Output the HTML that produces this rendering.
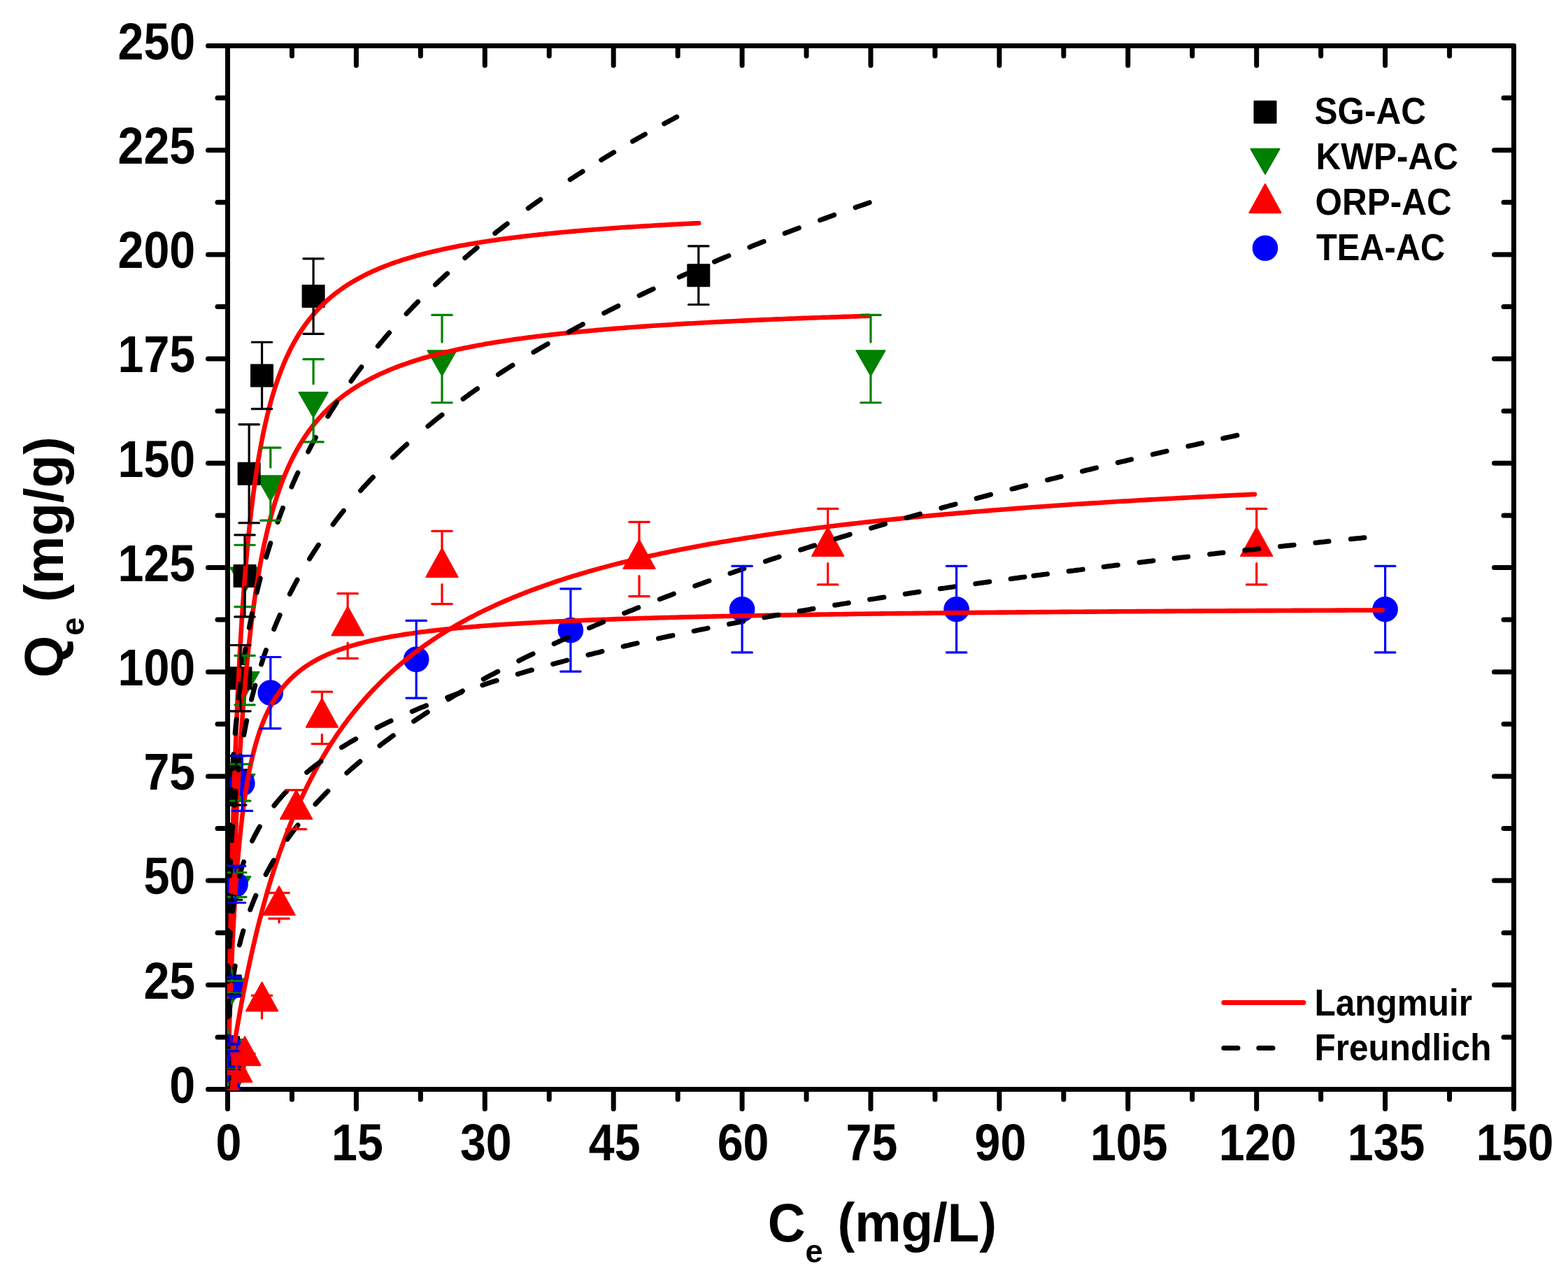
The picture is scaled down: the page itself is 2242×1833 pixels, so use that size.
<!DOCTYPE html>
<html lang="en"><head><meta charset="utf-8"><title>Adsorption isotherms</title>
<style>html,body{margin:0;padding:0;background:#fff;}body{width:2242px;height:1833px;overflow:hidden;}svg{display:block;}text{font-family:"Liberation Sans",Arial,Helvetica,sans-serif;font-weight:bold;fill:#000;}</style></head><body>
<svg width="2242" height="1833" viewBox="0 0 2242 1833" role="img" aria-label="Adsorption isotherms: Langmuir and Freundlich fits">
<rect x="0" y="0" width="2242" height="1833" fill="#fff"/>
<defs><clipPath id="plot"><rect x="324.85" y="64.85" width="1841.20" height="1494.20"/></clipPath></defs>
<g stroke="#000" stroke-width="7" stroke-linecap="round" fill="none"><path d="M325.50 65.50 H2164.50 V1557.50 H325.50 Z" stroke-linejoin="round"/><path d="M325.50 1557.50v28.00M325.50 65.50v28.00M417.45 1557.50v14.50M417.45 65.50v14.50M509.40 1557.50v28.00M509.40 65.50v28.00M601.35 1557.50v14.50M601.35 65.50v14.50M693.30 1557.50v28.00M693.30 65.50v28.00M785.25 1557.50v14.50M785.25 65.50v14.50M877.20 1557.50v28.00M877.20 65.50v28.00M969.15 1557.50v14.50M969.15 65.50v14.50M1061.10 1557.50v28.00M1061.10 65.50v28.00M1153.05 1557.50v14.50M1153.05 65.50v14.50M1245.00 1557.50v28.00M1245.00 65.50v28.00M1336.95 1557.50v14.50M1336.95 65.50v14.50M1428.90 1557.50v28.00M1428.90 65.50v28.00M1520.85 1557.50v14.50M1520.85 65.50v14.50M1612.80 1557.50v28.00M1612.80 65.50v28.00M1704.75 1557.50v14.50M1704.75 65.50v14.50M1796.70 1557.50v28.00M1796.70 65.50v28.00M1888.65 1557.50v14.50M1888.65 65.50v14.50M1980.60 1557.50v28.00M1980.60 65.50v28.00M2072.55 1557.50v14.50M2072.55 65.50v14.50M2164.50 1557.50v28.00M2164.50 65.50v28.00M325.50 1557.50h-28.00M2164.50 1557.50h-28.00M325.50 1482.90h-14.50M2164.50 1482.90h-14.50M325.50 1408.30h-28.00M2164.50 1408.30h-28.00M325.50 1333.70h-14.50M2164.50 1333.70h-14.50M325.50 1259.10h-28.00M2164.50 1259.10h-28.00M325.50 1184.50h-14.50M2164.50 1184.50h-14.50M325.50 1109.90h-28.00M2164.50 1109.90h-28.00M325.50 1035.30h-14.50M2164.50 1035.30h-14.50M325.50 960.70h-28.00M2164.50 960.70h-28.00M325.50 886.10h-14.50M2164.50 886.10h-14.50M325.50 811.50h-28.00M2164.50 811.50h-28.00M325.50 736.90h-14.50M2164.50 736.90h-14.50M325.50 662.30h-28.00M2164.50 662.30h-28.00M325.50 587.70h-14.50M2164.50 587.70h-14.50M325.50 513.10h-28.00M2164.50 513.10h-28.00M325.50 438.50h-14.50M2164.50 438.50h-14.50M325.50 363.90h-28.00M2164.50 363.90h-28.00M325.50 289.30h-14.50M2164.50 289.30h-14.50M325.50 214.70h-28.00M2164.50 214.70h-28.00M325.50 140.10h-14.50M2164.50 140.10h-14.50M325.50 65.50h-28.00M2164.50 65.50h-28.00"/></g>
<g font-size="73.7px"><text transform="translate(327.00 1658.90) scale(0.9 1)" text-anchor="middle">0</text><text transform="translate(510.90 1658.90) scale(0.9 1)" text-anchor="middle">15</text><text transform="translate(694.80 1658.90) scale(0.9 1)" text-anchor="middle">30</text><text transform="translate(878.70 1658.90) scale(0.9 1)" text-anchor="middle">45</text><text transform="translate(1062.60 1658.90) scale(0.9 1)" text-anchor="middle">60</text><text transform="translate(1246.50 1658.90) scale(0.9 1)" text-anchor="middle">75</text><text transform="translate(1430.40 1658.90) scale(0.9 1)" text-anchor="middle">90</text><text transform="translate(1614.30 1658.90) scale(0.9 1)" text-anchor="middle">105</text><text transform="translate(1798.20 1658.90) scale(0.9 1)" text-anchor="middle">120</text><text transform="translate(1982.10 1658.90) scale(0.9 1)" text-anchor="middle">135</text><text transform="translate(2166.00 1658.90) scale(0.9 1)" text-anchor="middle">150</text><text transform="translate(279.20 1576.70) scale(0.9 1)" text-anchor="end">0</text><text transform="translate(279.20 1427.50) scale(0.9 1)" text-anchor="end">25</text><text transform="translate(279.20 1278.30) scale(0.9 1)" text-anchor="end">50</text><text transform="translate(279.20 1129.10) scale(0.9 1)" text-anchor="end">75</text><text transform="translate(279.20 979.90) scale(0.9 1)" text-anchor="end">100</text><text transform="translate(279.20 830.70) scale(0.9 1)" text-anchor="end">125</text><text transform="translate(279.20 681.50) scale(0.9 1)" text-anchor="end">150</text><text transform="translate(279.20 532.30) scale(0.9 1)" text-anchor="end">175</text><text transform="translate(279.20 383.10) scale(0.9 1)" text-anchor="end">200</text><text transform="translate(279.20 233.90) scale(0.9 1)" text-anchor="end">225</text><text transform="translate(279.20 84.70) scale(0.9 1)" text-anchor="end">250</text></g>
<text transform="translate(1097.70 1775.00) scale(0.962 1)" font-size="77.5px">C<tspan font-size="47px" dy="30">e</tspan><tspan dy="-30"> (mg/L)</tspan></text>
<text transform="translate(90.10 969.00) rotate(-90) scale(1 1)" font-size="77.5px">Q<tspan font-size="47px" dy="30">e</tspan><tspan dy="-30"> (mg/g)</tspan></text>
<g clip-path="url(#plot)">
<g fill="#008000" stroke="#008000" stroke-width="2" stroke-linejoin="round">
<path d="M304.95 1545.60L346.05 1545.60L325.50 1581.30Z"/>
<path d="M305.56 1515.76L346.66 1515.76L326.11 1551.46Z"/>
<path d="M306.79 1485.92L347.89 1485.92L327.34 1521.62Z"/>
<path d="M311.08 1399.38L352.18 1399.38L331.63 1435.08Z"/>
<path d="M317.21 1253.17L358.31 1253.17L337.76 1288.87Z"/>
<path d="M323.34 1106.95L364.44 1106.95L343.89 1142.65Z"/>
<path d="M329.47 960.74L370.57 960.74L350.02 996.44Z"/>
<path d="M329.47 811.54L370.57 811.54L350.02 847.24Z"/>
<path d="M366.25 680.24L407.35 680.24L386.80 715.94Z"/>
<path d="M427.55 560.88L468.65 560.88L448.10 596.58Z"/>
<path d="M611.45 501.20L652.55 501.20L632.00 536.90Z"/>
<path d="M1224.45 501.20L1265.55 501.20L1245.00 536.90Z"/>
</g>
<g fill="#000000" stroke="#000000" stroke-width="2" stroke-linejoin="round">
<rect x="310.00" y="1542.00" width="31.00" height="31.00"/>
<rect x="313.43" y="1512.16" width="31.00" height="31.00"/>
<rect x="311.23" y="1482.32" width="31.00" height="31.00"/>
<rect x="313.68" y="1394.59" width="31.00" height="31.00"/>
<rect x="316.13" y="1247.78" width="31.00" height="31.00"/>
<rect x="322.26" y="1100.37" width="31.00" height="31.00"/>
<rect x="328.39" y="954.15" width="31.00" height="31.00"/>
<rect x="334.52" y="807.94" width="31.00" height="31.00"/>
<rect x="340.65" y="661.72" width="31.00" height="31.00"/>
<rect x="359.04" y="521.47" width="31.00" height="31.00"/>
<rect x="432.60" y="408.08" width="31.00" height="31.00"/>
<rect x="983.32" y="378.24" width="31.00" height="31.00"/>
</g>
<g fill="#0000ff" stroke="#0000ff" stroke-width="2" stroke-linejoin="round">
<circle cx="325.50" cy="1557.50" r="17.30"/>
<circle cx="326.11" cy="1527.66" r="17.30"/>
<circle cx="327.95" cy="1497.82" r="17.30"/>
<circle cx="330.40" cy="1410.69" r="17.30"/>
<circle cx="336.53" cy="1264.47" r="17.30"/>
<circle cx="346.34" cy="1120.05" r="17.30"/>
<circle cx="386.80" cy="990.54" r="17.30"/>
<circle cx="595.22" cy="942.80" r="17.30"/>
<circle cx="815.90" cy="901.02" r="17.30"/>
<circle cx="1061.10" cy="871.18" r="17.30"/>
<circle cx="1367.60" cy="871.18" r="17.30"/>
<circle cx="1980.60" cy="871.18" r="17.30"/>
</g>
<g fill="#ff0000" stroke="#ff0000" stroke-width="2" stroke-linejoin="round">
<path d="M302.90 1570.90L348.10 1570.90L325.50 1529.90Z"/>
<path d="M315.16 1547.03L360.36 1547.03L337.76 1506.03Z"/>
<path d="M327.42 1523.16L372.62 1523.16L350.02 1482.16Z"/>
<path d="M351.94 1445.57L397.14 1445.57L374.54 1404.57Z"/>
<path d="M376.46 1308.31L421.66 1308.31L399.06 1267.31Z"/>
<path d="M400.98 1171.04L446.18 1171.04L423.58 1130.04Z"/>
<path d="M437.76 1039.75L482.96 1039.75L460.36 998.75Z"/>
<path d="M474.54 908.45L519.74 908.45L497.14 867.45Z"/>
<path d="M609.40 824.90L654.60 824.90L632.00 783.90Z"/>
<path d="M891.38 812.96L936.58 812.96L913.98 771.96Z"/>
<path d="M1161.10 795.06L1206.30 795.06L1183.70 754.06Z"/>
<path d="M1774.10 795.06L1819.30 795.06L1796.70 754.06Z"/>
</g>
<g fill="none" stroke="#ff0000" stroke-width="6.6" stroke-linecap="round" stroke-linejoin="round">
<path d="M325.50 1557.50L325.50 1557.42L325.51 1557.12L325.52 1556.58L325.54 1555.77L325.56 1554.67L325.59 1553.28L325.63 1551.58L325.67 1549.58L325.72 1547.25L325.77 1544.61L325.84 1541.65L325.91 1538.36L325.99 1534.75L326.07 1530.81L326.17 1526.56L326.27 1521.99L326.38 1517.10L326.50 1511.90L326.62 1506.40L326.76 1500.61L326.90 1494.52L327.05 1488.14L327.21 1481.50L327.38 1474.58L327.56 1467.41L327.74 1459.99L327.94 1452.33L328.14 1444.44L328.35 1436.34L328.57 1428.03L328.80 1419.52L329.04 1410.83L329.29 1401.96L329.55 1392.94L329.81 1383.76L330.09 1374.44L330.37 1365.00L330.67 1355.44L330.97 1345.77L331.29 1336.01L331.61 1326.17L331.94 1316.25L332.28 1306.27L332.64 1296.24L333.00 1286.17L333.37 1276.06L333.75 1265.93L334.14 1255.78L334.54 1245.63L334.95 1235.48L335.37 1225.34L335.81 1215.21L336.25 1205.11L336.70 1195.05L337.16 1185.02L337.63 1175.03L338.11 1165.10L338.60 1155.22L339.11 1145.40L339.62 1135.65L340.14 1125.97L340.67 1116.37L341.22 1106.84L341.77 1097.40L342.34 1088.04L342.91 1078.77L343.50 1069.59L344.09 1060.51L344.70 1051.52L345.32 1042.63L345.95 1033.85L346.59 1025.16L347.24 1016.58L347.90 1008.10L348.57 999.73L349.25 991.47L349.94 983.31L350.65 975.26L351.36 967.32L352.09 959.49L352.82 951.77L353.57 944.16L354.33 936.65L355.10 929.25L355.88 921.97L356.67 914.78L357.47 907.71L358.29 900.74L359.11 893.88L359.95 887.13L360.80 880.47L361.66 873.92L362.53 867.48L363.41 861.13L364.30 854.89L365.21 848.74L366.12 842.70L367.05 836.75L367.99 830.90L368.94 825.14L369.90 819.47L370.87 813.90L371.86 808.42L372.85 803.03L373.86 797.73L374.88 792.51L375.91 787.38L376.95 782.34L378.00 777.38L379.07 772.50L380.15 767.71L381.24 762.99L382.34 758.35L383.45 753.79L384.57 749.31L385.71 744.90L386.86 740.56L388.02 736.30L389.19 732.10L390.37 727.98L391.57 723.93L392.77 719.94L393.99 716.02L395.22 712.16L396.47 708.37L397.72 704.64L398.99 700.98L400.27 697.37L401.56 693.83L402.86 690.34L404.18 686.91L405.51 683.54L406.85 680.22L408.20 676.96L409.56 673.75L410.94 670.59L412.33 667.48L413.73 664.43L415.14 661.42L416.56 658.47L418.00 655.56L419.45 652.70L420.91 649.88L422.39 647.11L423.87 644.39L425.37 641.70L426.88 639.06L428.40 636.47L429.94 633.91L431.49 631.40L433.05 628.92L434.62 626.48L436.21 624.09L437.81 621.73L439.42 619.40L441.04 617.12L442.68 614.86L444.32 612.65L445.99 610.47L447.66 608.32L449.34 606.20L451.04 604.12L452.75 602.07L454.48 600.05L456.21 598.06L457.96 596.10L459.73 594.17L461.50 592.27L463.29 590.40L465.09 588.55L466.90 586.74L468.73 584.95L470.56 583.18L472.42 581.45L474.28 579.74L476.16 578.05L478.05 576.39L479.95 574.75L481.86 573.14L483.79 571.55L485.73 569.98L487.69 568.44L489.65 566.92L491.63 565.42L493.63 563.94L495.63 562.48L497.65 561.04L499.68 559.63L501.73 558.23L503.79 556.86L505.86 555.50L507.94 554.16L510.04 552.84L512.15 551.54L514.27 550.25L516.41 548.99L518.56 547.74L520.72 546.51L522.90 545.29L525.08 544.09L527.29 542.91L529.50 541.75L531.73 540.60L533.97 539.46L536.23 538.34L538.49 537.24L540.78 536.15L543.07 535.07L545.38 534.01L547.70 532.96L550.03 531.93L552.38 530.91L554.74 529.90L557.12 528.91L559.50 527.93L561.91 526.96L564.32 526.00L566.75 525.06L569.19 524.13L571.64 523.21L574.11 522.30L576.59 521.40L579.09 520.52L581.60 519.65L584.12 518.78L586.66 517.93L589.20 517.09L591.77 516.26L594.34 515.44L596.93 514.63L599.54 513.83L602.15 513.03L604.78 512.25L607.43 511.48L610.08 510.72L612.75 509.97L615.44 509.22L618.14 508.49L620.85 507.76L623.57 507.04L626.31 506.33L629.07 505.63L631.83 504.94L634.61 504.25L637.41 503.58L640.21 502.91L643.04 502.25L645.87 501.60L648.72 500.95L651.58 500.31L654.46 499.68L657.35 499.06L660.25 498.44L663.17 497.83L666.10 497.23L669.05 496.64L672.01 496.05L674.98 495.47L677.97 494.89L680.97 494.32L683.98 493.76L687.01 493.20L690.05 492.65L693.11 492.11L696.18 491.57L699.27 491.04L702.36 490.51L705.48 489.99L708.60 489.48L711.74 488.97L714.90 488.47L718.07 487.97L721.25 487.47L724.44 486.99L727.65 486.50L730.88 486.03L734.12 485.56L737.37 485.09L740.63 484.63L743.92 484.17L747.21 483.72L750.52 483.27L753.84 482.83L757.18 482.39L760.53 481.95L763.89 481.52L767.27 481.10L770.67 480.68L774.08 480.26L777.50 479.85L780.93 479.44L784.38 479.04L787.85 478.64L791.33 478.25L794.82 477.85L798.33 477.47L801.85 477.08L805.38 476.70L808.93 476.33L812.50 475.96L816.08 475.59L819.67 475.22L823.28 474.86L826.90 474.50L830.53 474.15L834.18 473.80L837.85 473.45L841.53 473.11L845.22 472.77L848.93 472.43L852.65 472.10L856.38 471.76L860.14 471.44L863.90 471.11L867.68 470.79L871.47 470.47L875.28 470.16L879.10 469.84L882.94 469.54L886.79 469.23L890.66 468.93L894.54 468.62L898.44 468.33L902.34 468.03L906.27 467.74L910.21 467.45L914.16 467.16L918.13 466.88L922.11 466.60L926.11 466.32L930.12 466.04L934.14 465.77L938.19 465.50L942.24 465.23L946.31 464.96L950.39 464.70L954.49 464.43L958.61 464.17L962.73 463.92L966.88 463.66L971.03 463.41L975.21 463.16L979.39 462.91L983.60 462.66L987.81 462.42L992.04 462.18L996.29 461.94L1000.55 461.70L1004.82 461.47L1009.11 461.23L1013.42 461.00L1017.74 460.77L1022.07 460.55L1026.42 460.32L1030.78 460.10L1035.16 459.88L1039.55 459.66L1043.96 459.44L1048.38 459.22L1052.82 459.01L1057.27 458.80L1061.74 458.59L1066.22 458.38L1070.72 458.17L1075.23 457.96L1079.76 457.76L1084.30 457.56L1088.85 457.36L1093.42 457.16L1098.01 456.96L1102.61 456.77L1107.23 456.57L1111.86 456.38L1116.50 456.19L1121.16 456.00L1125.84 455.82L1130.53 455.63L1135.23 455.45L1139.95 455.26L1144.69 455.08L1149.44 454.90L1154.20 454.72L1158.98 454.55L1163.78 454.37L1168.59 454.20L1173.41 454.02L1178.25 453.85L1183.11 453.68L1187.98 453.51L1192.87 453.35L1197.77 453.18L1202.68 453.02L1207.61 452.85L1212.56 452.69L1217.52 452.53L1222.49 452.37L1227.48 452.21L1232.49 452.05L1237.51 451.90L1242.55 451.74"/>
<path d="M325.50 1557.50L325.50 1557.41L325.51 1557.09L325.51 1556.50L325.53 1555.62L325.54 1554.43L325.57 1552.93L325.59 1551.09L325.62 1548.92L325.66 1546.40L325.70 1543.54L325.75 1540.32L325.80 1536.76L325.86 1532.84L325.92 1528.57L325.99 1523.96L326.07 1519.00L326.15 1513.69L326.23 1508.05L326.33 1502.08L326.43 1495.78L326.53 1489.16L326.64 1482.23L326.76 1475.00L326.88 1467.47L327.01 1459.66L327.15 1451.58L327.29 1443.24L327.44 1434.64L327.60 1425.80L327.76 1416.73L327.93 1407.44L328.10 1397.95L328.28 1388.26L328.47 1378.39L328.67 1368.35L328.87 1358.15L329.08 1347.81L329.30 1337.33L329.52 1326.73L329.75 1316.02L329.99 1305.21L330.23 1294.32L330.48 1283.35L330.74 1272.32L331.01 1261.23L331.28 1250.10L331.56 1238.94L331.85 1227.75L332.14 1216.55L332.44 1205.35L332.75 1194.15L333.07 1182.96L333.39 1171.79L333.73 1160.65L334.06 1149.55L334.41 1138.49L334.77 1127.48L335.13 1116.52L335.50 1105.62L335.87 1094.79L336.26 1084.04L336.65 1073.36L337.05 1062.76L337.45 1052.25L337.87 1041.83L338.29 1031.50L338.72 1021.26L339.16 1011.13L339.61 1001.10L340.06 991.17L340.52 981.35L340.99 971.64L341.47 962.05L341.95 952.56L342.45 943.19L342.95 933.93L343.46 924.79L343.97 915.76L344.50 906.85L345.03 898.06L345.57 889.39L346.12 880.83L346.68 872.40L347.24 864.08L347.82 855.88L348.40 847.80L348.99 839.83L349.59 831.98L350.19 824.25L350.81 816.63L351.43 809.13L352.06 801.74L352.70 794.46L353.35 787.30L354.00 780.25L354.67 773.30L355.34 766.46L356.02 759.74L356.71 753.11L357.41 746.60L358.12 740.18L358.83 733.87L359.55 727.66L360.29 721.55L361.03 715.54L361.77 709.63L362.53 703.81L363.30 698.09L364.07 692.46L364.85 686.92L365.65 681.47L366.45 676.11L367.25 670.84L368.07 665.66L368.90 660.56L369.73 655.54L370.57 650.61L371.43 645.76L372.29 640.99L373.16 636.29L374.03 631.67L374.92 627.13L375.82 622.67L376.72 618.27L377.63 613.95L378.56 609.70L379.49 605.52L380.43 601.41L381.38 597.36L382.33 593.38L383.30 589.47L384.27 585.61L385.26 581.83L386.25 578.10L387.25 574.43L388.26 570.83L389.28 567.28L390.31 563.78L391.35 560.35L392.40 556.97L393.45 553.64L394.52 550.37L395.59 547.15L396.67 543.98L397.77 540.86L398.87 537.79L399.98 534.77L401.10 531.79L402.22 528.87L403.36 525.99L404.51 523.15L405.66 520.36L406.83 517.61L408.00 514.90L409.19 512.24L410.38 509.62L411.58 507.04L412.79 504.50L414.01 501.99L415.24 499.53L416.48 497.10L417.73 494.71L418.98 492.36L420.25 490.04L421.53 487.76L422.81 485.51L424.11 483.29L425.41 481.11L426.72 478.96L428.04 476.84L429.38 474.76L430.72 472.70L432.07 470.68L433.43 468.68L434.80 466.72L436.18 464.78L437.56 462.87L438.96 460.99L440.37 459.13L441.79 457.31L443.21 455.51L444.65 453.73L446.09 451.98L447.55 450.26L449.01 448.55L450.48 446.88L451.97 445.23L453.46 443.60L454.96 441.99L456.47 440.40L458.00 438.84L459.53 437.30L461.07 435.78L462.62 434.28L464.18 432.81L465.75 431.35L467.32 429.91L468.91 428.49L470.51 427.09L472.12 425.72L473.74 424.35L475.36 423.01L477.00 421.69L478.65 420.38L480.30 419.09L481.97 417.82L483.65 416.56L485.33 415.32L487.03 414.10L488.73 412.89L490.45 411.70L492.17 410.52L493.91 409.36L495.65 408.22L497.41 407.09L499.17 405.97L500.94 404.87L502.73 403.78L504.52 402.71L506.32 401.65L508.14 400.60L509.96 399.57L511.79 398.55L513.64 397.54L515.49 396.54L517.35 395.56L519.22 394.59L521.11 393.63L523.00 392.68L524.90 391.75L526.81 390.82L528.74 389.91L530.67 389.01L532.61 388.12L534.56 387.24L536.52 386.37L538.50 385.51L540.48 384.66L542.47 383.82L544.47 383.00L546.49 382.18L548.51 381.37L550.54 380.57L552.58 379.78L554.64 379.00L556.70 378.23L558.77 377.46L560.85 376.71L562.95 375.96L565.05 375.23L567.16 374.50L569.29 373.78L571.42 373.07L573.56 372.37L575.72 371.67L577.88 370.98L580.05 370.30L582.24 369.63L584.43 368.97L586.64 368.31L588.85 367.66L591.08 367.02L593.31 366.38L595.56 365.75L597.81 365.13L600.08 364.52L602.35 363.91L604.64 363.31L606.94 362.71L609.24 362.12L611.56 361.54L613.89 360.97L616.23 360.40L618.57 359.83L620.93 359.28L623.30 358.72L625.68 358.18L628.07 357.64L630.47 357.11L632.88 356.58L635.30 356.05L637.73 355.54L640.17 355.02L642.62 354.52L645.08 354.02L647.56 353.52L650.04 353.03L652.53 352.54L655.03 352.06L657.55 351.58L660.07 351.11L662.61 350.65L665.15 350.19L667.71 349.73L670.27 349.28L672.85 348.83L675.44 348.38L678.03 347.94L680.64 347.51L683.26 347.08L685.89 346.65L688.53 346.23L691.18 345.81L693.84 345.40L696.51 344.99L699.19 344.58L701.88 344.18L704.59 343.79L707.30 343.39L710.02 343.00L712.76 342.61L715.50 342.23L718.26 341.85L721.02 341.48L723.80 341.11L726.59 340.74L729.38 340.37L732.19 340.01L735.01 339.65L737.84 339.30L740.68 338.95L743.53 338.60L746.39 338.26L749.27 337.91L752.15 337.58L755.04 337.24L757.95 336.91L760.86 336.58L763.79 336.25L766.72 335.93L769.67 335.61L772.63 335.29L775.59 334.98L778.57 334.67L781.56 334.36L784.56 334.05L787.57 333.75L790.60 333.45L793.63 333.15L796.67 332.86L799.73 332.57L802.79 332.28L805.87 331.99L808.95 331.70L812.05 331.42L815.16 331.14L818.28 330.86L821.41 330.59L824.55 330.32L827.70 330.05L830.86 329.78L834.03 329.51L837.22 329.25L840.41 328.99L843.62 328.73L846.83 328.47L850.06 328.22L853.30 327.97L856.55 327.72L859.81 327.47L863.08 327.22L866.36 326.98L869.65 326.74L872.96 326.50L876.27 326.26L879.60 326.03L882.93 325.79L886.28 325.56L889.64 325.33L893.01 325.10L896.39 324.88L899.78 324.65L903.18 324.43L906.59 324.21L910.01 323.99L913.45 323.78L916.89 323.56L920.35 323.35L923.82 323.13L927.30 322.93L930.79 322.72L934.29 322.51L937.80 322.31L941.32 322.10L944.86 321.90L948.40 321.70L951.96 321.50L955.52 321.30L959.10 321.11L962.69 320.92L966.29 320.72L969.90 320.53L973.52 320.34L977.16 320.16L980.80 319.97L984.45 319.78L988.12 319.60L991.80 319.42L995.49 319.24L999.19 319.06"/>
<path d="M325.50 1557.50L325.50 1557.37L325.51 1556.89L325.53 1556.00L325.57 1554.69L325.61 1552.92L325.66 1550.68L325.73 1547.97L325.80 1544.77L325.89 1541.10L325.99 1536.95L326.11 1532.33L326.24 1527.25L326.38 1521.73L326.53 1515.77L326.70 1509.41L326.89 1502.66L327.09 1495.53L327.30 1488.06L327.53 1480.27L327.77 1472.18L328.02 1463.82L328.30 1455.22L328.58 1446.40L328.89 1437.39L329.20 1428.21L329.54 1418.89L329.89 1409.46L330.25 1399.94L330.63 1390.35L331.03 1380.71L331.45 1371.05L331.88 1361.39L332.32 1351.74L332.79 1342.12L333.27 1332.55L333.76 1323.04L334.28 1313.61L334.81 1304.27L335.35 1295.02L335.92 1285.89L336.50 1276.88L337.10 1267.99L337.71 1259.24L338.35 1250.63L339.00 1242.17L339.67 1233.86L340.35 1225.70L341.06 1217.69L341.78 1209.85L342.52 1202.16L343.28 1194.64L344.05 1187.28L344.85 1180.08L345.66 1173.04L346.49 1166.16L347.34 1159.44L348.21 1152.88L349.09 1146.47L350.00 1140.22L350.92 1134.13L351.86 1128.18L352.82 1122.37L353.80 1116.72L354.80 1111.20L355.81 1105.83L356.85 1100.59L357.90 1095.48L358.98 1090.51L360.07 1085.66L361.18 1080.94L362.31 1076.34L363.46 1071.86L364.63 1067.50L365.82 1063.24L367.03 1059.10L368.26 1055.07L369.51 1051.14L370.77 1047.31L372.06 1043.58L373.37 1039.95L374.69 1036.41L376.04 1032.96L377.40 1029.61L378.79 1026.33L380.20 1023.14L381.62 1020.04L383.07 1017.01L384.53 1014.06L386.02 1011.18L387.52 1008.38L389.05 1005.64L390.60 1002.98L392.16 1000.38L393.75 997.85L395.36 995.37L396.99 992.96L398.64 990.61L400.30 988.32L401.99 986.08L403.70 983.90L405.43 981.77L407.19 979.69L408.96 977.66L410.75 975.68L412.57 973.75L414.40 971.86L416.26 970.02L418.13 968.22L420.03 966.46L421.95 964.74L423.89 963.06L425.85 961.42L427.83 959.82L429.83 958.26L431.86 956.73L433.90 955.23L435.97 953.77L438.06 952.34L440.17 950.94L442.30 949.58L444.45 948.24L446.62 946.93L448.82 945.65L451.03 944.40L453.27 943.18L455.53 941.98L457.81 940.81L460.11 939.66L462.44 938.54L464.79 937.44L467.15 936.36L469.54 935.31L471.95 934.27L474.39 933.26L476.84 932.27L479.32 931.30L481.82 930.35L484.34 929.42L486.88 928.50L489.45 927.61L492.04 926.73L494.65 925.87L497.28 925.03L499.93 924.20L502.61 923.39L505.31 922.60L508.03 921.82L510.77 921.05L513.54 920.30L516.32 919.57L519.13 918.85L521.97 918.14L524.82 917.44L527.70 916.76L530.60 916.09L533.52 915.43L536.46 914.79L539.43 914.16L542.42 913.53L545.43 912.92L548.47 912.32L551.53 911.74L554.61 911.16L557.71 910.59L560.84 910.03L563.99 909.48L567.16 908.94L570.36 908.41L573.57 907.89L576.81 907.38L580.08 906.88L583.36 906.38L586.67 905.90L590.01 905.42L593.36 904.95L596.74 904.49L600.14 904.04L603.57 903.59L607.02 903.15L610.49 902.72L613.98 902.29L617.50 901.88L621.04 901.46L624.61 901.06L628.20 900.66L631.81 900.27L635.44 899.88L639.10 899.51L642.78 899.13L646.49 898.76L650.22 898.40L653.97 898.05L657.74 897.70L661.54 897.35L665.36 897.01L669.21 896.68L673.08 896.35L676.97 896.02L680.89 895.70L684.83 895.39L688.80 895.08L692.78 894.77L696.80 894.47L700.83 894.17L704.89 893.88L708.98 893.59L713.08 893.31L717.21 893.03L721.37 892.75L725.55 892.48L729.75 892.21L733.98 891.95L738.23 891.69L742.50 891.43L746.80 891.18L751.13 890.93L755.47 890.68L759.84 890.44L764.24 890.20L768.66 889.97L773.10 889.73L777.57 889.50L782.06 889.28L786.58 889.05L791.12 888.83L795.68 888.62L800.27 888.40L804.89 888.19L809.52 887.98L814.19 887.78L818.87 887.57L823.58 887.37L828.32 887.18L833.08 886.98L837.86 886.79L842.67 886.60L847.51 886.41L852.36 886.22L857.25 886.04L862.15 885.86L867.09 885.68L872.04 885.51L877.02 885.33L882.03 885.16L887.06 884.99L892.11 884.82L897.19 884.66L902.30 884.49L907.43 884.33L912.58 884.17L917.76 884.02L922.96 883.86L928.19 883.71L933.44 883.56L938.72 883.41L944.03 883.26L949.35 883.11L954.71 882.97L960.08 882.82L965.49 882.68L970.91 882.54L976.37 882.41L981.84 882.27L987.35 882.14L992.88 882.00L998.43 881.87L1004.01 881.74L1009.61 881.61L1015.24 881.49L1020.89 881.36L1026.57 881.24L1032.27 881.11L1038.00 880.99L1043.76 880.87L1049.54 880.75L1055.34 880.64L1061.17 880.52L1067.03 880.41L1072.91 880.29L1078.82 880.18L1084.75 880.07L1090.70 879.96L1096.69 879.85L1102.69 879.74L1108.73 879.64L1114.79 879.53L1120.87 879.43L1126.98 879.33L1133.12 879.23L1139.28 879.12L1145.46 879.03L1151.67 878.93L1157.91 878.83L1164.17 878.73L1170.46 878.64L1176.78 878.54L1183.12 878.45L1189.48 878.36L1195.87 878.27L1202.29 878.18L1208.73 878.09L1215.20 878.00L1221.70 877.91L1228.22 877.82L1234.76 877.74L1241.33 877.65L1247.93 877.57L1254.55 877.49L1261.20 877.40L1267.88 877.32L1274.58 877.24L1281.31 877.16L1288.06 877.08L1294.84 877.00L1301.64 876.93L1308.47 876.85L1315.33 876.77L1322.21 876.70L1329.12 876.62L1336.05 876.55L1343.01 876.48L1350.00 876.40L1357.01 876.33L1364.05 876.26L1371.12 876.19L1378.21 876.12L1385.33 876.05L1392.47 875.98L1399.64 875.92L1406.83 875.85L1414.06 875.78L1421.30 875.72L1428.58 875.65L1435.88 875.59L1443.21 875.52L1450.56 875.46L1457.94 875.40L1465.35 875.33L1472.78 875.27L1480.24 875.21L1487.72 875.15L1495.23 875.09L1502.77 875.03L1510.34 874.97L1517.93 874.92L1525.54 874.86L1533.19 874.80L1540.86 874.74L1548.55 874.69L1556.28 874.63L1564.03 874.58L1571.80 874.52L1579.60 874.47L1587.43 874.41L1595.29 874.36L1603.17 874.31L1611.08 874.25L1619.02 874.20L1626.98 874.15L1634.97 874.10L1642.98 874.05L1651.03 874.00L1659.09 873.95L1667.19 873.90L1675.31 873.85L1683.46 873.80L1691.64 873.76L1699.84 873.71L1708.07 873.66L1716.33 873.61L1724.61 873.57L1732.92 873.52L1741.26 873.48L1749.62 873.43L1758.01 873.39L1766.43 873.34L1774.87 873.30L1783.34 873.25L1791.84 873.21L1800.37 873.17L1808.92 873.12L1817.50 873.08L1826.11 873.04L1834.74 873.00L1843.40 872.96L1852.09 872.92L1860.80 872.88L1869.54 872.84L1878.31 872.80L1887.11 872.76L1895.93 872.72L1904.78 872.68L1913.66 872.64L1922.56 872.60L1931.49 872.56L1940.45 872.53L1949.43 872.49L1958.45 872.45L1967.49 872.41L1976.55 872.38"/>
<path d="M325.50 1557.50L325.50 1557.48L325.51 1557.41L325.53 1557.28L325.56 1557.08L325.60 1556.82L325.64 1556.48L325.70 1556.07L325.77 1555.58L325.85 1555.01L325.94 1554.37L326.04 1553.64L326.16 1552.83L326.28 1551.93L326.42 1550.95L326.57 1549.89L326.73 1548.74L326.91 1547.50L327.10 1546.18L327.30 1544.77L327.52 1543.27L327.75 1541.69L327.99 1540.02L328.24 1538.26L328.51 1536.41L328.79 1534.48L329.09 1532.46L329.40 1530.36L329.73 1528.17L330.07 1525.90L330.42 1523.54L330.79 1521.10L331.17 1518.57L331.57 1515.97L331.98 1513.29L332.41 1510.52L332.85 1507.68L333.31 1504.76L333.78 1501.77L334.26 1498.70L334.77 1495.55L335.28 1492.34L335.82 1489.05L336.36 1485.70L336.93 1482.28L337.51 1478.79L338.10 1475.24L338.71 1471.62L339.34 1467.94L339.98 1464.21L340.64 1460.41L341.31 1456.56L342.00 1452.65L342.71 1448.69L343.43 1444.68L344.17 1440.62L344.92 1436.51L345.70 1432.36L346.48 1428.16L347.29 1423.92L348.11 1419.64L348.95 1415.31L349.80 1410.96L350.67 1406.56L351.56 1402.13L352.46 1397.67L353.38 1393.18L354.32 1388.66L355.28 1384.12L356.25 1379.55L357.24 1374.95L358.24 1370.34L359.27 1365.70L360.31 1361.04L361.36 1356.37L362.44 1351.68L363.53 1346.98L364.64 1342.27L365.77 1337.54L366.91 1332.81L368.07 1328.07L369.25 1323.32L370.45 1318.57L371.67 1313.81L372.90 1309.05L374.15 1304.29L375.42 1299.53L376.70 1294.77L378.01 1290.01L379.33 1285.26L380.67 1280.51L382.02 1275.77L383.40 1271.04L384.79 1266.31L386.20 1261.59L387.63 1256.89L389.08 1252.19L390.55 1247.51L392.03 1242.84L393.54 1238.19L395.06 1233.54L396.60 1228.92L398.15 1224.31L399.73 1219.72L401.33 1215.15L402.94 1210.59L404.57 1206.06L406.22 1201.54L407.89 1197.05L409.58 1192.58L411.28 1188.13L413.01 1183.70L414.75 1179.29L416.52 1174.91L418.30 1170.55L420.10 1166.22L421.92 1161.91L423.75 1157.63L425.61 1153.37L427.49 1149.14L429.38 1144.93L431.30 1140.75L433.23 1136.60L435.18 1132.48L437.15 1128.38L439.14 1124.31L441.15 1120.27L443.18 1116.25L445.23 1112.27L447.30 1108.31L449.38 1104.38L451.49 1100.48L453.62 1096.61L455.76 1092.77L457.93 1088.95L460.11 1085.17L462.31 1081.42L464.54 1077.69L466.78 1073.99L469.04 1070.33L471.32 1066.69L473.62 1063.08L475.94 1059.50L478.29 1055.95L480.65 1052.43L483.03 1048.94L485.43 1045.48L487.85 1042.04L490.29 1038.64L492.74 1035.26L495.22 1031.92L497.72 1028.60L500.24 1025.31L502.78 1022.05L505.34 1018.82L507.92 1015.62L510.52 1012.44L513.14 1009.30L515.78 1006.18L518.44 1003.09L521.12 1000.03L523.82 996.99L526.54 993.98L529.28 991.00L532.04 988.05L534.82 985.13L537.62 982.23L540.44 979.35L543.28 976.51L546.14 973.69L549.03 970.89L551.93 968.13L554.85 965.39L557.80 962.67L560.76 959.98L563.75 957.31L566.75 954.67L569.78 952.06L572.82 949.47L575.89 946.90L578.98 944.36L582.09 941.84L585.22 939.35L588.37 936.88L591.54 934.43L594.73 932.01L597.94 929.61L601.17 927.23L604.43 924.87L607.70 922.54L611.00 920.23L614.31 917.94L617.65 915.68L621.01 913.43L624.39 911.21L627.79 909.01L631.21 906.83L634.65 904.67L638.11 902.53L641.60 900.41L645.10 898.32L648.63 896.24L652.17 894.18L655.74 892.14L659.33 890.13L662.94 888.13L666.58 886.15L670.23 884.19L673.90 882.25L677.60 880.33L681.32 878.42L685.05 876.54L688.81 874.67L692.59 872.82L696.40 870.99L700.22 869.17L704.07 867.37L707.93 865.59L711.82 863.83L715.73 862.09L719.66 860.36L723.61 858.64L727.59 856.95L731.58 855.27L735.60 853.60L739.64 851.96L743.70 850.32L747.78 848.71L751.88 847.10L756.01 845.52L760.15 843.95L764.32 842.39L768.51 840.85L772.72 839.32L776.96 837.81L781.21 836.31L785.49 834.83L789.79 833.36L794.11 831.90L798.45 830.46L802.82 829.03L807.20 827.61L811.61 826.21L816.04 824.82L820.49 823.44L824.97 822.08L829.46 820.73L833.98 819.39L838.52 818.07L843.08 816.75L847.67 815.45L852.27 814.16L856.90 812.89L861.55 811.62L866.23 810.37L870.92 809.12L875.64 807.89L880.38 806.67L885.14 805.47L889.92 804.27L894.73 803.08L899.55 801.91L904.40 800.74L909.27 799.59L914.17 798.44L919.09 797.31L924.03 796.19L928.99 795.08L933.97 793.97L938.98 792.88L944.00 791.80L949.06 790.72L954.13 789.66L959.22 788.61L964.34 787.56L969.48 786.53L974.65 785.50L979.83 784.48L985.04 783.48L990.27 782.48L995.52 781.49L1000.80 780.51L1006.10 779.53L1011.42 778.57L1016.76 777.61L1022.13 776.67L1027.52 775.73L1032.93 774.80L1038.36 773.88L1043.82 772.96L1049.30 772.05L1054.80 771.16L1060.33 770.27L1065.87 769.38L1071.45 768.51L1077.04 767.64L1082.65 766.78L1088.29 765.93L1093.96 765.08L1099.64 764.24L1105.35 763.41L1111.08 762.59L1116.83 761.77L1122.61 760.96L1128.41 760.16L1134.23 759.36L1140.07 758.57L1145.94 757.79L1151.83 757.01L1157.75 756.24L1163.68 755.48L1169.64 754.72L1175.63 753.97L1181.63 753.23L1187.66 752.49L1193.71 751.76L1199.79 751.03L1205.89 750.31L1212.01 749.60L1218.15 748.89L1224.32 748.19L1230.51 747.49L1236.73 746.80L1242.96 746.11L1249.22 745.44L1255.51 744.76L1261.81 744.09L1268.14 743.43L1274.50 742.77L1280.87 742.12L1287.27 741.47L1293.70 740.83L1300.15 740.20L1306.62 739.56L1313.11 738.94L1319.63 738.32L1326.17 737.70L1332.73 737.09L1339.32 736.48L1345.93 735.88L1352.56 735.29L1359.22 734.69L1365.90 734.11L1372.60 733.52L1379.33 732.94L1386.08 732.37L1392.86 731.80L1399.66 731.24L1406.48 730.68L1413.32 730.12L1420.19 729.57L1427.09 729.02L1434.00 728.48L1440.94 727.94L1447.91 727.41L1454.89 726.88L1461.90 726.35L1468.94 725.83L1476.00 725.31L1483.08 724.80L1490.18 724.28L1497.31 723.78L1504.47 723.28L1511.64 722.78L1518.84 722.28L1526.07 721.79L1533.32 721.30L1540.59 720.82L1547.88 720.34L1555.20 719.86L1562.55 719.39L1569.92 718.92L1577.31 718.45L1584.72 717.99L1592.16 717.53L1599.62 717.08L1607.11 716.62L1614.62 716.18L1622.16 715.73L1629.71 715.29L1637.30 714.85L1644.90 714.41L1652.53 713.98L1660.19 713.55L1667.87 713.13L1675.57 712.70L1683.30 712.28L1691.05 711.87L1698.82 711.45L1706.62 711.04L1714.44 710.63L1722.29 710.23L1730.16 709.82L1738.06 709.43L1745.98 709.03L1753.92 708.64L1761.89 708.25L1769.88 707.86L1777.90 707.47L1785.94 707.09L1794.00 706.71"/>
</g>
<g fill="none" stroke="#000" stroke-width="7" stroke-linecap="round" stroke-linejoin="round">
<path d="M325.5 1553.2L325.5 1549.4L325.5 1545.4L325.5 1542.5L325.5 1539.8L325.5 1536.5L325.5 1534.1M325.5 1503.7L325.5 1500.1L325.5 1497.0L325.5 1493.5L325.5 1490.1L325.5 1487.1L325.5 1483.8M325.5 1453.2L325.5 1450.0L325.6 1446.4L325.6 1443.1L325.6 1440.0L325.6 1436.5L325.6 1433.3M325.7 1403.1L325.7 1399.6L325.7 1396.4L325.8 1392.9L325.8 1389.5L325.8 1386.4L325.8 1383.0M326.1 1352.7L326.2 1349.2L326.2 1346.0L326.2 1342.5L326.3 1339.1L326.3 1336.0L326.4 1332.6M327.0 1302.4L327.1 1299.1L327.1 1295.6L327.2 1292.1L327.3 1288.9L327.4 1285.7L327.5 1282.3M328.6 1252.2L328.7 1248.6L328.8 1245.3L329.0 1242.0L329.1 1238.5L329.3 1235.0L329.5 1231.7M331.1 1201.7L331.4 1198.3L331.6 1194.9L331.8 1191.5L332.0 1188.2L332.3 1184.8L332.5 1181.5M335.1 1151.4L335.4 1147.9L335.7 1144.7L336.1 1141.3L336.4 1137.8L336.8 1134.6L337.1 1131.2M340.8 1100.9L341.3 1097.6L341.7 1094.3L342.2 1090.7L342.7 1087.4L343.2 1084.1L343.7 1080.8M348.7 1050.8L349.4 1047.3L350.0 1043.9L350.7 1040.5L351.3 1037.3L352.0 1033.8L352.7 1030.4M359.5 1000.3L360.3 997.0L361.2 993.5L362.1 990.1L362.9 986.8L363.9 983.3L364.8 980.0M373.6 950.0L374.7 946.5L375.8 943.1L376.9 939.9L378.0 936.4L379.2 933.0L380.4 929.6M391.7 899.6L393.1 896.2L394.4 892.9L395.9 889.4L397.3 886.0L398.8 882.7L400.2 879.4M414.4 849.3L416.2 845.9L417.9 842.6L419.7 839.1L421.5 835.7L423.2 832.5L425.1 829.0M442.5 799.1L444.6 795.7L446.8 792.3L448.9 789.0L451.0 785.8L453.2 782.4L455.4 779.1M476.1 749.8L478.6 746.5L481.1 743.2L483.7 739.9L486.1 736.7L488.7 733.5L491.3 730.2M515.6 701.5L518.5 698.2L521.5 695.0L524.4 691.7L527.3 688.7L530.3 685.4L533.4 682.2M561.5 654.0L564.9 650.9L568.1 647.8L571.5 644.7L574.9 641.5L578.2 638.5L581.7 635.3M611.9 609.4L615.3 606.6L618.5 604.0L621.7 601.3L625.2 598.6L628.7 595.8L632.0 593.2M662.1 570.4L665.4 568.0L668.7 565.6L672.0 563.1L675.7 560.6L679.1 558.2L682.5 555.8M712.4 535.5L715.7 533.2L719.1 531.0L722.5 528.8L726.0 526.6L729.4 524.4L732.9 522.2M763.0 503.6L766.3 501.6L769.7 499.6L773.1 497.6L776.3 495.7L779.7 493.7L783.2 491.7M813.3 474.6L816.6 472.8L819.9 471.0L823.3 469.1L826.6 467.3L830.0 465.5L833.4 463.6M863.7 447.7L866.9 446.1L870.5 444.2L873.7 442.6L877.0 440.9L880.6 439.1L883.9 437.5M914.1 422.6L917.5 421.0L920.6 419.5L924.1 417.9L927.5 416.2L930.6 414.8L934.1 413.1M971.2 396.1L974.4 394.7L977.7 393.2L981.4 391.6L984.7 390.1L988.0 388.6L991.4 387.2M1021.5 374.2L1024.9 372.7L1028.4 371.3L1031.4 370.0L1034.9 368.5L1038.4 367.1L1041.9 365.6M1071.9 353.4L1075.1 352.1L1078.7 350.6L1081.9 349.3L1085.2 348.1L1088.8 346.6L1092.1 345.3M1122.2 333.6L1125.5 332.3L1128.9 331.1L1132.3 329.8L1135.6 328.5L1139.0 327.2L1142.4 325.9M1172.5 314.8L1176.0 313.5L1179.1 312.4L1182.6 311.1L1186.1 309.8L1189.2 308.7L1192.7 307.4M1223.1 296.6L1226.3 295.5L1229.9 294.3L1233.1 293.2L1236.3 292.1L1240.0 290.8L1243.2 289.7"/>
<path d="M325.5 1551.1L325.5 1546.8L325.5 1544.0L325.5 1540.5L325.5 1537.3L325.5 1534.9L325.5 1532.0M325.5 1501.3L325.5 1498.1L325.5 1494.4L325.5 1491.3L325.5 1488.2L325.5 1484.7L325.5 1481.7M325.5 1451.4L325.5 1448.0L325.5 1444.6L325.5 1441.2L325.5 1437.9L325.5 1434.6L325.5 1431.3M325.6 1400.7L325.6 1397.3L325.6 1394.0L325.6 1390.7L325.6 1387.3L325.6 1384.1L325.6 1380.8M325.8 1350.6L325.8 1347.2L325.8 1343.8L325.8 1340.4L325.9 1337.1L325.9 1333.8L325.9 1330.4M326.2 1300.4L326.2 1296.9L326.2 1293.5L326.3 1290.4L326.3 1286.9L326.4 1283.5L326.4 1280.1M326.9 1249.9L326.9 1246.4L327.0 1243.1L327.1 1239.9L327.1 1236.4L327.2 1232.9L327.3 1229.7M328.1 1199.5L328.2 1196.1L328.3 1192.8L328.4 1189.4L328.5 1186.1L328.6 1182.8L328.7 1179.5M329.9 1149.3L330.0 1145.8L330.2 1142.4L330.3 1139.2L330.5 1135.7L330.7 1132.3L330.8 1128.9M332.5 1099.0L332.7 1095.6L332.9 1092.0L333.2 1088.7L333.4 1085.4L333.6 1081.9L333.9 1078.6M336.2 1048.5L336.5 1045.1L336.8 1041.9L337.1 1038.4L337.4 1035.0L337.7 1031.8L338.1 1028.4M341.2 998.1L341.6 994.8L342.0 991.5L342.4 988.1L342.9 984.6L343.3 981.2L343.7 977.9M347.9 947.7L348.4 944.5L348.9 941.0L349.4 937.5L349.9 934.3L350.5 931.1L351.0 927.6M356.4 897.4L357.1 894.0L357.7 890.6L358.4 887.3L359.1 883.9L359.7 880.5L360.4 877.2M367.2 847.1L368.0 843.8L368.8 840.3L369.6 837.0L370.5 833.7L371.4 830.2L372.2 827.0M380.6 796.7L381.6 793.3L382.6 789.9L383.7 786.5L384.7 783.3L385.7 779.9L386.8 776.5M397.0 746.5L398.2 743.1L399.4 739.8L400.7 736.5L402.0 732.9L403.2 729.6L404.5 726.3M416.9 696.1L418.3 692.8L419.8 689.4L421.4 685.9L422.8 682.6L424.3 679.4L425.9 675.9M440.7 645.8L442.4 642.4L444.2 638.9L445.9 635.7L447.7 632.3L449.6 628.9L451.4 625.5M468.8 595.4L470.9 592.1L472.9 588.7L475.2 585.2L477.3 581.8L479.4 578.5L481.5 575.2M502.0 545.0L504.5 541.5L506.8 538.2L509.2 535.0L511.8 531.5L514.4 528.0L516.8 524.8M540.3 494.9L543.0 491.7L545.7 488.5L548.3 485.4L551.0 482.2L553.8 479.0L556.6 475.8M581.1 448.7L583.7 445.9L586.6 442.9L589.2 440.1L591.9 437.3L594.8 434.3L597.6 431.5M622.5 407.0L625.3 404.4L628.2 401.6L631.0 399.0L633.8 396.4L636.8 393.7L639.6 391.1M664.8 368.7L667.6 366.4L670.6 363.8L673.4 361.4L676.2 359.1L679.3 356.5L682.1 354.1M707.8 333.5L710.5 331.3L713.6 328.9L716.6 326.6L719.4 324.4L722.2 322.3L725.3 319.9M755.2 297.8L758.2 295.7L760.9 293.7L763.9 291.6L767.0 289.4L769.8 287.5L772.8 285.3M815.2 256.7L818.2 254.8L821.2 252.8L824.0 251.0L827.0 249.1L830.0 247.2L833.1 245.2M859.7 228.7L862.5 226.9L865.7 225.0L868.6 223.2L871.5 221.5L874.8 219.5L877.7 217.8M904.6 202.1L907.6 200.3L910.4 198.8L913.4 197.0L916.5 195.3L919.3 193.7L922.4 192.0M949.7 176.9L952.6 175.3L955.8 173.6L958.7 172.0L961.6 170.5L964.8 168.7L967.7 167.2"/>
<path d="M325.5 1554.0L325.5 1549.2L325.5 1545.8L325.5 1542.0L325.5 1539.5L325.5 1537.1L325.5 1535.0M325.5 1504.4L325.5 1500.7L325.5 1497.1L325.5 1493.7L325.5 1490.4L325.5 1487.1L325.5 1484.0M325.6 1454.1L325.6 1450.4L325.6 1446.9L325.6 1443.7L325.7 1440.3L325.7 1436.9L325.7 1433.6M326.1 1403.5L326.2 1400.0L326.3 1396.6L326.4 1393.2L326.4 1390.0L326.5 1386.6L326.6 1383.3M328.0 1353.3L328.2 1349.8L328.4 1346.5L328.6 1343.0L328.9 1339.6L329.1 1336.4L329.4 1333.0M332.6 1302.9L333.0 1299.5L333.5 1296.1L334.1 1292.6L334.6 1289.3L335.2 1286.0L335.7 1282.7M342.3 1252.7L343.3 1249.2L344.2 1245.8L345.2 1242.4L346.3 1238.9L347.3 1235.7L348.5 1232.3M360.6 1202.3L362.3 1198.8L364.0 1195.4L365.8 1192.0L367.6 1188.7L369.4 1185.3L371.4 1181.9M391.9 1152.0L394.7 1148.5L397.5 1145.1L400.4 1141.7L403.4 1138.3L406.4 1134.9L409.6 1131.6M438.7 1104.3L442.0 1101.7L445.2 1099.0L448.4 1096.5L451.8 1093.9L455.3 1091.3L458.8 1088.7M488.5 1068.6L491.7 1066.7L495.2 1064.6L498.4 1062.6L501.8 1060.6L505.3 1058.6L508.7 1056.6M538.9 1040.5L542.3 1038.8L545.5 1037.2L548.7 1035.6L552.2 1033.9L555.8 1032.2L559.1 1030.7M589.3 1017.2L592.7 1015.7L595.9 1014.4L599.1 1013.0L602.6 1011.6L606.2 1010.2L609.5 1008.8M639.6 997.2L642.9 996.0L646.2 994.8L649.5 993.6L652.9 992.3L656.3 991.1L659.7 989.9M689.9 979.6L693.2 978.5L696.6 977.4L699.9 976.3L703.3 975.2L706.7 974.2L710.2 973.1M740.3 963.8L743.6 962.8L747.0 961.9L750.3 960.9L753.6 959.9L757.0 958.9L760.4 958.0M790.6 949.5L793.8 948.7L797.4 947.7L800.6 946.8L803.9 946.0L807.5 945.0L810.8 944.1M841.0 936.4L844.4 935.5L847.4 934.8L850.9 933.9L854.4 933.1L857.5 932.3L861.0 931.4M891.2 924.3L894.4 923.5L897.7 922.8L900.9 922.0L904.6 921.2L907.9 920.4L911.2 919.7M941.5 912.9L945.0 912.2L948.4 911.4L951.9 910.7L954.9 910.0L958.4 909.3L961.9 908.6M992.1 902.3L995.3 901.6L998.9 900.9L1002.1 900.2L1005.3 899.6L1009.0 898.9L1012.2 898.2M1042.5 892.3L1045.9 891.6L1049.2 891.0L1052.5 890.3L1055.9 889.7L1059.2 889.1L1062.6 888.4M1092.9 882.8L1096.4 882.1L1099.4 881.6L1102.9 881.0L1106.4 880.3L1109.4 879.8L1112.9 879.2M1143.1 873.8L1146.2 873.3L1149.8 872.7L1152.9 872.1L1156.1 871.6L1159.7 871.0L1162.9 870.4M1193.7 865.2L1197.0 864.7L1200.2 864.2L1203.5 863.6L1206.7 863.1L1210.0 862.6L1213.3 862.0M1243.6 857.1L1247.0 856.6L1250.4 856.1L1253.7 855.6L1257.1 855.0L1260.5 854.5L1263.9 854.0M1294.3 849.3L1297.8 848.8L1300.7 848.3L1304.2 847.8L1307.7 847.3L1310.6 846.8L1314.1 846.3M1344.3 841.8L1347.9 841.3L1350.9 840.9L1353.9 840.4L1357.6 839.9L1361.2 839.4L1364.2 838.9M1394.8 834.6L1397.9 834.1L1401.7 833.6L1404.8 833.2L1407.9 832.8L1411.6 832.2L1414.8 831.8M1445.1 827.6L1448.3 827.2L1451.5 826.8L1455.3 826.3L1458.5 825.8L1461.8 825.4L1465.0 825.0M1477.9 823.2L1481.2 822.8L1484.4 822.4L1487.7 822.0L1491.0 821.5L1494.3 821.1L1497.5 820.7M1528.1 816.7L1531.4 816.3L1534.8 815.9L1538.1 815.4L1541.5 815.0L1544.8 814.6L1548.2 814.1M1578.2 810.4L1581.7 810.0L1585.1 809.5L1587.9 809.2L1591.3 808.8L1594.8 808.3L1598.3 807.9M1629.1 804.2L1632.6 803.8L1635.4 803.4L1639.0 803.0L1642.5 802.6L1645.4 802.2L1648.9 801.8M1679.1 798.3L1682.0 797.9L1685.6 797.5L1689.3 797.1L1692.2 796.7L1695.1 796.4L1698.7 796.0M1729.7 792.4L1732.6 792.1L1736.3 791.7L1739.3 791.3L1742.3 791.0L1746.0 790.6L1749.0 790.3M1779.9 786.8L1783.0 786.5L1786.8 786.1L1789.8 785.7L1792.9 785.4L1796.7 785.0L1799.8 784.6M1830.6 781.3L1833.7 781.0L1836.8 780.6L1840.0 780.3L1843.9 779.9L1847.0 779.6L1850.1 779.2M1880.9 776.0L1884.1 775.7L1887.2 775.3L1890.4 775.0L1893.6 774.7L1896.8 774.3L1900.0 774.0M1931.4 770.8L1934.7 770.4L1937.9 770.1L1941.2 769.8L1944.5 769.5L1947.7 769.1L1951.0 768.8"/>
<path d="M325.5 1552.5L325.5 1549.2L325.5 1545.8L325.5 1542.5L325.5 1539.1L325.5 1535.6L325.5 1532.2M325.9 1502.1L325.9 1498.8L326.0 1495.3L326.1 1492.0L326.2 1488.6L326.3 1485.2L326.4 1481.8M327.9 1451.8L328.1 1448.5L328.3 1445.1L328.6 1441.7L328.9 1438.2L329.2 1434.8L329.5 1431.4M332.9 1401.5L333.4 1398.1L333.9 1394.7L334.5 1391.3L335.0 1387.9L335.6 1384.5L336.2 1381.1M342.4 1351.2L343.3 1347.8L344.1 1344.3L345.0 1340.9L345.9 1337.7L346.9 1334.2L347.8 1330.8M357.7 1300.7L359.0 1297.3L360.3 1294.0L361.6 1290.6L363.0 1287.2L364.4 1283.9L365.8 1280.4M380.1 1250.4L381.9 1247.0L383.7 1243.7L385.6 1240.2L387.5 1236.8L389.4 1233.5L391.4 1230.1M410.8 1200.1L413.2 1196.6L415.6 1193.3L418.1 1189.9L420.7 1186.4L423.2 1183.1L425.9 1179.7M451.0 1149.9L453.8 1146.8L456.8 1143.7L459.7 1140.5L462.7 1137.4L465.8 1134.2L468.9 1131.1M495.9 1105.2L498.9 1102.5L502.1 1099.7L505.2 1097.0L508.3 1094.3L511.6 1091.5L514.8 1088.8M542.9 1066.2L546.0 1063.8L549.3 1061.3L552.5 1058.9L555.7 1056.6L559.1 1054.0L562.3 1051.7M591.6 1031.3L594.9 1029.1L598.0 1027.0L601.3 1024.8L604.7 1022.6L607.9 1020.5L611.3 1018.3M641.2 999.8L644.3 997.9L647.8 995.8L651.3 993.8L654.5 991.9L657.8 990.0L661.4 987.9M691.3 971.1L694.8 969.2L698.1 967.4L701.3 965.7L704.9 963.8L708.5 961.9L711.8 960.2M741.8 944.8L744.9 943.2L748.5 941.4L752.0 939.7L755.2 938.1L758.5 936.5L762.1 934.8M792.2 920.5L795.6 918.9L798.7 917.5L802.2 915.9L805.7 914.3L808.8 912.9L812.3 911.3M842.5 897.9L845.8 896.5L849.1 895.1L852.4 893.6L855.8 892.2L859.1 890.8L862.5 889.3M892.7 876.8L895.9 875.5L899.4 874.1L902.9 872.7L906.1 871.4L909.3 870.1L912.8 868.7M943.3 856.7L946.6 855.5L949.9 854.2L953.2 852.9L956.6 851.7L959.9 850.4L963.3 849.1M993.7 837.8L997.2 836.5L1000.2 835.4L1003.7 834.2L1007.2 832.9L1010.3 831.8L1013.9 830.5M1044.0 819.8L1047.2 818.7L1050.4 817.6L1054.1 816.3L1057.3 815.2L1060.5 814.1L1063.8 813.0M1094.4 802.6L1097.7 801.5L1101.1 800.4L1104.0 799.4L1107.4 798.3L1110.7 797.2L1114.1 796.1M1144.6 786.2L1148.1 785.1L1151.1 784.1L1154.6 783.0L1158.1 781.9L1161.2 780.9L1164.7 779.8M1194.9 770.4L1198.0 769.5L1201.6 768.4L1205.3 767.2L1208.4 766.3L1211.6 765.3L1215.3 764.2M1245.6 755.1L1248.8 754.2L1252.0 753.2L1255.3 752.2L1259.1 751.1L1262.4 750.2L1265.6 749.2M1296.0 740.4L1299.3 739.5L1302.7 738.5L1306.0 737.6L1308.8 736.8L1312.2 735.8L1315.6 734.9M1345.8 726.4L1349.3 725.4L1352.8 724.5L1356.3 723.5L1359.2 722.7L1362.7 721.8L1366.2 720.8M1396.2 712.7L1399.8 711.7L1402.8 710.9L1406.4 709.9L1410.0 709.0L1413.0 708.2L1416.6 707.2M1447.0 699.2L1450.1 698.5L1453.8 697.5L1456.8 696.7L1459.9 695.9L1463.7 694.9L1466.8 694.1M1497.5 686.3L1500.6 685.5L1503.8 684.7L1507.6 683.8L1510.8 683.0L1514.0 682.2L1517.2 681.4M1547.5 673.8L1550.7 673.0L1554.0 672.2L1557.9 671.3L1561.2 670.5L1564.4 669.7L1567.7 668.9M1598.2 661.5L1601.5 660.7L1604.9 659.9L1607.6 659.3L1610.9 658.5L1614.3 657.7L1617.7 656.9M1648.3 649.7L1651.7 648.9L1655.1 648.1L1657.9 647.5L1661.3 646.7L1664.8 645.9L1668.2 645.1M1698.9 638.0L1702.4 637.2L1705.2 636.6L1708.8 635.8L1712.3 635.0L1715.1 634.4L1718.7 633.6M1748.7 626.8L1752.3 626.0L1755.2 625.4L1758.8 624.6L1762.4 623.8L1765.3 623.2L1768.9 622.4"/>
</g>
<path d="M326.11 1503.66V1525.87M326.11 1551.66V1529.45M311.86 1525.87h28.50M311.86 1529.45h28.50M327.34 1473.82V1494.24M327.34 1521.82V1501.40M313.09 1494.24h28.50M313.09 1501.40h28.50M331.63 1387.28V1402.51M331.63 1435.28V1420.06M317.38 1402.51h28.50M317.38 1420.06h28.50M337.76 1241.07V1247.52M337.76 1289.07V1282.61M323.51 1247.52h28.50M323.51 1282.61h28.50M343.89 1094.85V1092.59M343.89 1142.85V1145.11M329.64 1092.59h28.50M329.64 1145.11h28.50M350.02 948.64V937.42M350.02 996.64V1007.85M335.77 937.42h28.50M335.77 1007.85h28.50M350.02 799.44V779.27M350.02 847.44V867.60M335.77 779.27h28.50M335.77 867.60h28.50M386.80 668.14V640.22M386.80 716.14V744.06M372.55 640.22h28.50M372.55 744.06h28.50M448.10 548.78V513.70M448.10 596.78V631.86M433.85 513.70h28.50M433.85 631.86h28.50M632.00 489.10V450.44M632.00 537.10V575.76M617.75 450.44h28.50M617.75 575.76h28.50M1245.00 489.10V450.44M1245.00 537.10V575.76M1230.75 450.44h28.50M1230.75 575.76h28.50" fill="none" stroke="#008000" stroke-width="3.2" stroke-linecap="round"/>
<path d="M328.93 1511.66V1525.27M328.93 1543.66V1530.05M314.68 1525.27h28.50M314.68 1530.05h28.50M326.73 1481.82V1493.05M326.73 1513.82V1502.59M312.48 1493.05h28.50M312.48 1502.59h28.50M329.18 1394.09V1398.15M329.18 1426.09V1422.03M314.93 1398.15h28.50M314.93 1422.03h28.50M331.63 1247.28V1240.00M331.63 1279.28V1286.55M317.38 1240.00h28.50M317.38 1286.55h28.50M337.76 1099.87V1080.66M337.76 1131.87V1151.08M323.51 1080.66h28.50M323.51 1151.08h28.50M343.89 953.65V922.50M343.89 985.65V1016.80M329.64 922.50h28.50M329.64 1016.80h28.50M350.02 807.44V764.95M350.02 839.44V881.92M335.77 764.95h28.50M335.77 881.92h28.50M356.15 661.22V606.80M356.15 693.22V747.64M341.90 606.80h28.50M341.90 747.64h28.50M374.54 520.97V489.23M374.54 552.97V584.72M360.29 489.23h28.50M360.29 584.72h28.50M448.10 407.58V369.87M448.10 439.58V477.29M433.85 369.87h28.50M433.85 477.29h28.50M998.82 377.74V351.96M998.82 409.74V435.52M984.57 351.96h28.50M984.57 435.52h28.50" fill="none" stroke="#000000" stroke-width="3.2" stroke-linecap="round"/>
<path d="M326.11 1509.66V1524.97M326.11 1545.66V1530.35M311.86 1524.97h28.50M311.86 1530.35h28.50M327.95 1479.82V1492.45M327.95 1515.82V1503.19M313.70 1492.45h28.50M313.70 1503.19h28.50M330.40 1392.69V1397.56M330.40 1428.69V1423.82M316.15 1397.56h28.50M316.15 1423.82h28.50M336.53 1246.47V1238.21M336.53 1282.47V1290.73M322.28 1238.21h28.50M322.28 1290.73h28.50M346.34 1102.05V1080.66M346.34 1138.05V1159.43M332.09 1080.66h28.50M332.09 1159.43h28.50M386.80 972.54V939.51M386.80 1008.54V1041.57M372.55 939.51h28.50M372.55 1041.57h28.50M595.22 924.80V887.47M595.22 960.80V998.12M580.97 887.47h28.50M580.97 998.12h28.50M815.90 883.02V841.94M815.90 919.02V960.10M801.65 841.94h28.50M801.65 960.10h28.50M1061.10 853.18V809.41M1061.10 889.18V932.95M1046.85 809.41h28.50M1046.85 932.95h28.50M1367.60 853.18V809.41M1367.60 889.18V932.95M1353.35 809.41h28.50M1353.35 932.95h28.50M1980.60 853.18V809.41M1980.60 889.18V932.95M1966.35 809.41h28.50M1966.35 932.95h28.50" fill="none" stroke="#0000ff" stroke-width="3.2" stroke-linecap="round"/>
<path d="M337.76 1509.63V1531.96M337.76 1557.63V1535.30M323.51 1531.96h28.50M323.51 1535.30h28.50M350.02 1485.76V1506.41M350.02 1533.76V1513.10M335.77 1506.41h28.50M335.77 1513.10h28.50M374.54 1408.17V1423.40M374.54 1456.17V1440.94M360.29 1423.40h28.50M360.29 1440.94h28.50M399.06 1270.91V1276.53M399.06 1318.91V1313.29M384.81 1276.53h28.50M384.81 1313.29h28.50M423.58 1133.64V1129.59M423.58 1181.64V1185.69M409.33 1129.59h28.50M409.33 1185.69h28.50M460.36 1002.35V989.17M460.36 1050.35V1063.53M446.11 989.17h28.50M446.11 1063.53h28.50M497.14 871.05V848.68M497.14 919.05V941.42M482.89 848.68h28.50M482.89 941.42h28.50M632.00 787.50V759.28M632.00 835.50V863.72M617.75 759.28h28.50M617.75 863.72h28.50M913.98 775.56V746.45M913.98 823.56V852.68M899.73 746.45h28.50M899.73 852.68h28.50M1183.70 757.66V727.35M1183.70 805.66V835.97M1169.45 727.35h28.50M1169.45 835.97h28.50M1796.70 757.66V727.35M1796.70 805.66V835.97M1782.45 727.35h28.50M1782.45 835.97h28.50" fill="none" stroke="#ff0000" stroke-width="3.2" stroke-linecap="round"/>
</g>
<g font-size="54px">
<g fill="#000000" stroke="#000000" stroke-width="2" stroke-linejoin="round"><rect x="1793.50" y="144.80" width="31.00" height="31.00"/></g>
<text transform="translate(1879.50 176.80) scale(0.917 1)">SG-AC</text>
<g fill="#008000" stroke="#008000" stroke-width="2" stroke-linejoin="round"><path d="M1788.45 213.00L1829.55 213.00L1809.00 248.70Z"/></g>
<text transform="translate(1881.50 241.80) scale(0.917 1)">KWP-AC</text>
<g fill="#ff0000" stroke="#ff0000" stroke-width="2" stroke-linejoin="round"><path d="M1786.40 304.20L1831.60 304.20L1809.00 263.20Z"/></g>
<text transform="translate(1880.50 306.60) scale(0.917 1)">ORP-AC</text>
<g fill="#0000ff" stroke="#0000ff" stroke-width="2" stroke-linejoin="round"><circle cx="1809.00" cy="354.80" r="17.30"/></g>
<text transform="translate(1882.00 371.60) scale(0.903 1)">TEA-AC</text>
<path d="M1749.90 1433.50H1863.80" stroke="#ff0000" stroke-width="7.2" stroke-linecap="round" fill="none"/>
<path d="M1749.90 1498.50h20 M1799.90 1498.50h20" stroke="#000" stroke-width="7.2" stroke-linecap="round" fill="none"/>
<text transform="translate(1879.50 1451.50) scale(0.917 1)">Langmuir</text>
<text transform="translate(1879.50 1516.10) scale(0.917 1)">Freundlich</text>
</g>
</svg></body></html>
